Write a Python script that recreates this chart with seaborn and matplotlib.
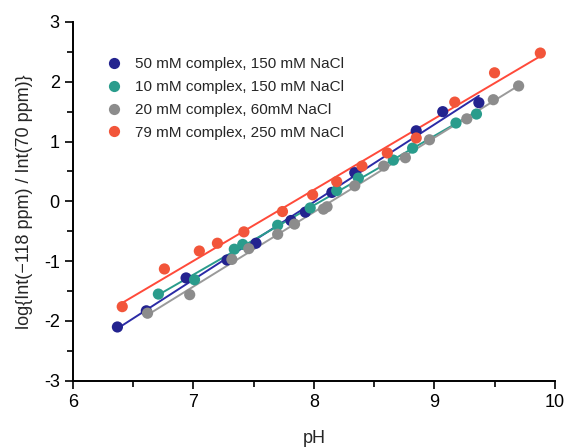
import numpy as np
import pandas as pd
import matplotlib
matplotlib.use("Agg")
import matplotlib.pyplot as plt
import seaborn as sns
from matplotlib.ticker import MultipleLocator

sns.set_style("ticks")
plt.rcParams['font.family'] = ['Liberation Sans', 'DejaVu Sans']
plt.rcParams['axes.unicode_minus'] = False

labels = ["50 mM complex, 150 mM NaCl", "10 mM complex, 150 mM NaCl",
          "20 mM complex, 60mM NaCl", "79 mM complex, 250 mM NaCl"]
colors = ["#23238f", "#2a9c8c", "#8c8c8c", "#f2553a"]
line_colors = ["#2b2ba6", "#2a9c8c", "#9a9a9a", "#ff4a3a"]

ph_blue = [6.37, 6.61, 6.94, 7.28, 7.52, 7.81, 7.93, 8.15, 8.34, 8.85, 9.07, 9.37]
y_blue = [-2.10, -1.83, -1.28, -0.98, -0.70, -0.32, -0.18, 0.15, 0.48, 1.18, 1.50, 1.65]

ph_green = [6.71, 7.01, 7.34, 7.41, 7.70, 7.97, 8.19, 8.37, 8.66, 8.82, 9.18, 9.35]
y_green = [-1.55, -1.31, -0.80, -0.72, -0.40, -0.11, 0.18, 0.39, 0.69, 0.89, 1.31, 1.46]

ph_gray = [6.62, 6.97, 7.32, 7.46, 7.70, 7.84, 8.08, 8.11, 8.34, 8.58, 8.76, 8.96, 9.27, 9.49, 9.70]
y_gray = [-1.87, -1.56, -0.97, -0.79, -0.55, -0.38, -0.13, -0.09, 0.26, 0.59, 0.73, 1.03, 1.38, 1.70, 1.93]

ph_red = [6.41, 6.76, 7.05, 7.20, 7.42, 7.74, 7.99, 8.19, 8.40, 8.61, 8.85, 9.17, 9.50, 9.88]
y_red = [-1.76, -1.13, -0.83, -0.70, -0.51, -0.17, 0.11, 0.33, 0.59, 0.81, 1.06, 1.66, 2.15, 2.48]

series = [(ph_blue, y_blue), (ph_green, y_green), (ph_gray, y_gray), (ph_red, y_red)]
frames = []
for lab, (xs, ys) in zip(labels, series):
    frames.append(pd.DataFrame({"pH": xs, "val": ys, "series": lab}))
df = pd.concat(frames, ignore_index=True)

fig = plt.figure(figsize=(5.69, 4.48), dpi=100)
ax = fig.add_axes([0.128, 0.150, 0.847, 0.801])

for lab, lc in zip(labels, line_colors):
    sub = df[df.series == lab]
    sns.regplot(data=sub, x="pH", y="val", scatter=False, ci=None, truncate=True,
                color=lc, line_kws={"lw": 1.4}, ax=ax)

sns.scatterplot(data=df, x="pH", y="val", hue="series", hue_order=labels,
                palette=dict(zip(labels, colors)), s=65, edgecolor="none",
                ax=ax, zorder=3)

ax.set_xlim(6, 10)
ax.set_ylim(-3, 3)
ax.xaxis.set_major_locator(MultipleLocator(1))
ax.xaxis.set_minor_locator(MultipleLocator(0.5))
ax.yaxis.set_major_locator(MultipleLocator(1))
ax.yaxis.set_minor_locator(MultipleLocator(0.5))
ax.tick_params(which="major", length=6, width=1.2, labelsize=13, direction="out", color="black", labelcolor="black")
ax.tick_params(which="minor", length=4, width=1.2, direction="out", color="black")
for s in ["top", "right"]:
    ax.spines[s].set_visible(False)
for s in ["left", "bottom"]:
    ax.spines[s].set_linewidth(1.4)
    ax.spines[s].set_color("black")

ax.set_xlabel("pH", fontsize=13, labelpad=14)
ax.set_ylabel("log{Int(\u2212118 ppm) / Int(70 ppm)}", fontsize=13, labelpad=8)

leg = ax.legend(loc="upper left", bbox_to_anchor=(0.025, 0.94), frameon=False,
                fontsize=11, handletextpad=0.35, labelspacing=0.58, markerscale=1.0)

fig.savefig("out.png", dpi=100)
